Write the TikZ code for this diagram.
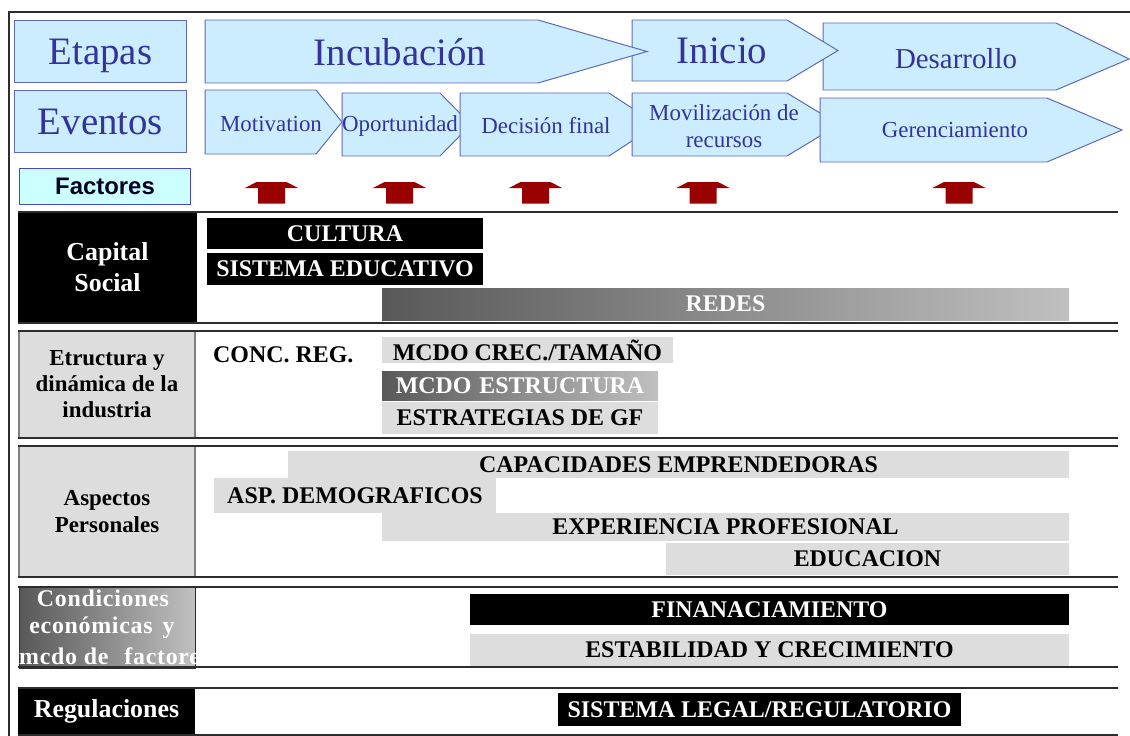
\documentclass[tikz,border=0pt]{standalone}
\usepackage{fontspec}
\setmainfont{Liberation Serif}
\newfontfamily\factfont{Liberation Sans}
\definecolor{stagefill}{RGB}{204,236,255}
\definecolor{stageline}{RGB}{95,105,185}
\definecolor{stagetext}{RGB}{51,51,153}
\definecolor{factfill}{RGB}{204,255,255}
\definecolor{factline}{RGB}{70,70,200}
\definecolor{arrowred}{RGB}{153,0,0}
\definecolor{lgray}{RGB}{221,221,221}
\definecolor{dgray}{RGB}{88,88,88}
\definecolor{mgray}{RGB}{192,192,192}
\definecolor{sidegray}{RGB}{128,128,128}
\definecolor{rulecol}{RGB}{45,45,45}
\tikzset{
  stage/.style={fill=stagefill, draw=stageline, line width=1pt, line join=miter},
  stagetxt/.style={text=stagetext, font=\fontsize{39}{39}\selectfont, inner sep=0},
  eventtxt/.style={text=stagetext, font=\fontsize{23}{27}\selectfont, inner sep=0, align=center},
  uparrow/.style={fill=arrowred},
  barbox/.style={anchor=north west, inner sep=0, outer sep=0, font=\bfseries\fontsize{24}{24}\selectfont},
  blackbar/.style={barbox, fill=black, text=white},
  graybar/.style={barbox, fill=lgray, text=black},
  shadebar/.style={barbox, left color=dgray, right color=mgray, text=white},
  seprule/.style={draw=rulecol, line width=1.5pt},
  side/.style={anchor=north west, inner sep=0, outer sep=0, align=center, font=\bfseries\fontsize{23}{26}\selectfont},
  sidetxt/.style={inner sep=0, text=white, font=\bfseries\fontsize{24}{24}\selectfont\addfontfeature{LetterSpace=3}},
}
\begin{document}
\begin{tikzpicture}[x=1bp,y=-1bp]
\useasboundingbox (0,0) rectangle (1130,736);
% outer frame
\draw[draw=rulecol, line width=1.5pt] (9,736) -- (9,12) -- (1130,12);

% header boxes
\node[anchor=north west, inner sep=0, fill=stagefill, draw=stageline, line width=1pt, text depth=0pt,
  minimum width=172bp, minimum height=62bp, text=stagetext, font=\fontsize{39}{39}\selectfont] (etapas) at (14,20) {Etapas};
\node[anchor=north west, inner sep=0, fill=stagefill, draw=stageline, line width=1pt,
  minimum width=172bp, minimum height=62bp, text=stagetext, font=\fontsize{39}{39}\selectfont] (eventos) at (14,90) {Eventos};
\node[anchor=north west, inner sep=0, fill=factfill, draw=factline, line width=1pt,
  minimum width=171bp, minimum height=36bp, text=black!85!blue, font=\factfont\bfseries\fontsize{24}{24}\selectfont] (factores) at (19,168) {Factores};

% stages (drawn right to left)
\path[stage] (823,23) -- (1056,23) -- (1129,59) -- (1056,90) -- (823,90) -- cycle;
\node[stagetxt, font=\fontsize{29}{29}\selectfont] (desarrollo) at (956,59) {Desarrollo};
\path[stage] (632,20) -- (787,20) -- (838,50.5) -- (787,81) -- (632,81) -- cycle;
\node[stagetxt] (inicio) at (722,51) {Inicio};
\path[stage] (205,20) -- (538,20) -- (647,51.5) -- (538,83) -- (205,83) -- cycle;
\node[stagetxt] (incubacion) at (400,52) {Incubación};

% events (drawn left to right)
\path[stage] (205,90) -- (316,90) -- (342,122) -- (316,154) -- (205,154) -- cycle;
\node[eventtxt] (motivation) at (271,124) {Motivation};
\path[stage] (342,93) -- (440,93) -- (471,124.5) -- (440,156) -- (342,156) -- cycle;
\node[eventtxt] (oportunidad) at (400,126) {Oportunidad};
\path[stage] (460,93) -- (609,93) -- (657,124.5) -- (609,156) -- (460,156) -- cycle;
\node[eventtxt] (decision) at (546,126) {Decisión final};
\path[stage] (632,93) -- (787,93) -- (839,124.5) -- (787,156) -- (632,156) -- cycle;
\node[eventtxt] (movilizacion) at (724,126) {Movilización de\\recursos};
\path[stage] (820,98) -- (1047,98) -- (1122,130) -- (1047,162) -- (820,162) -- cycle;
\node[eventtxt] (gerenciamiento) at (955,130) {Gerenciamiento};

% red up arrows
\foreach \c in {271.5,399.5,535.5,703,959}{
  \fill[uparrow] (\c-26.5,188) -- (\c-15,182) -- (\c+15,182) -- (\c+26.5,188)
     -- (\c+13.5,188) -- (\c+13.5,203.5) -- (\c-13.5,203.5) -- (\c-13.5,188) -- cycle;
}

% left column
\node[side, fill=black, text=white, minimum width=179bp, minimum height=111bp,
  font=\bfseries\fontsize{26}{31}\selectfont] (capital) at (18,212) {Capital\\Social};
\node[side, fill=lgray, draw=sidegray, line width=1.2pt, minimum width=176bp, minimum height=107bp] (estructura) at (19,331) {Etructura y\\dinámica de la\\industria};
\node[side, fill=lgray, draw=sidegray, line width=1.2pt, minimum width=176bp, minimum height=131bp,
  font=\bfseries\fontsize{23}{27}\selectfont] (aspectos) at (19,446) {Aspectos\\Personales};
\path[left color=dgray, right color=mgray, draw=rulecol, line width=1pt] (19,587) rectangle (195,668);
\begin{scope}
  \clip (19,587) rectangle (195,668);
  \node[sidetxt] (cond1) at (103,598) {Condiciones};
  \node[sidetxt] (cond2) at (102,628) {económicas\hspace{10bp}y};
  \node[sidetxt, anchor=west] (cond3) at (19,656.5) {mcdo de\hspace{16bp}factores};
\end{scope}
\node[side, fill=black, text=white, minimum width=177bp, minimum height=47bp,
  font=\bfseries\fontsize{26}{26}\selectfont] (regulaciones) at (18,688) {Regulaciones};

% bars
\node[blackbar, minimum width=276bp, minimum height=31bp] (cultura) at (207,218) {CULTURA};
\node[blackbar, minimum width=276bp, minimum height=32bp] (sised) at (207,253) {SISTEMA EDUCATIVO};
\node[shadebar, minimum width=687bp, minimum height=32bp] (redes) at (382,288) {REDES};

\node[anchor=west, inner sep=0, font=\bfseries\fontsize{24}{24}\selectfont] (concreg) at (213,355) {CONC. REG.};
\node[graybar, minimum width=291bp, minimum height=26bp] (crec) at (382,337) {MCDO CREC./TAMAÑO};
\node[shadebar, minimum width=276bp, minimum height=29bp] (mcdoestr) at (382,371) {MCDO\hspace{8bp}ESTRUCTURA};
\node[graybar, minimum width=276bp, minimum height=32bp] (estrat) at (382,402) {ESTRATEGIAS DE GF};

\node[graybar, minimum width=781bp, minimum height=27bp] (capac) at (288,451) {CAPACIDADES EMPRENDEDORAS};
\node[graybar, minimum width=282bp, minimum height=35bp] (demog) at (214,478) {ASP. DEMOGRAFICOS};
\node[graybar, minimum width=687bp, minimum height=28bp] (exper) at (382,513) {EXPERIENCIA PROFESIONAL};
\node[graybar, minimum width=403bp, minimum height=32bp] (educ) at (666,543) {EDUCACION};

\node[blackbar, minimum width=599bp, minimum height=31bp] (finan) at (470,594) {FINANACIAMIENTO};
\node[graybar, minimum width=599bp, minimum height=32bp] (estab) at (470,634) {ESTABILIDAD Y CRECIMIENTO};

\node[blackbar, minimum width=403bp, minimum height=33bp] (legal) at (558,693) {SISTEMA LEGAL/REGULATORIO};

% separator rules
\foreach \y in {212,323,331,438,446,577,587,667,688,735}{
  \draw[seprule] (18,\y) -- (1118,\y);
}
\end{tikzpicture}
\end{document}
